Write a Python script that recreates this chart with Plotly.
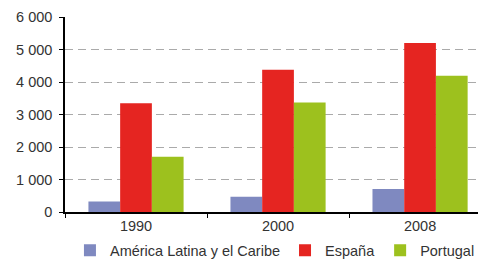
import plotly.graph_objects as go

years = ["1990", "2000", "2008"]
series_names = ["América Latina y el Caribe", "España", "Portugal"]
america_latina = [320, 470, 710]
espana = [3350, 4380, 5200]
portugal = [1700, 3370, 4190]
colors = ["#7f89c0", "#e52521", "#9dc11e"]
y_ticks = [0, 1000, 2000, 3000, 4000, 5000, 6000]

fig = go.Figure()
for name, vals, c in zip(series_names, [america_latina, espana, portugal], colors):
    fig.add_trace(go.Bar(x=years, y=vals, name=name, marker=dict(color=c, line=dict(width=0))))

fig.update_layout(
    width=478, height=259,
    margin=dict(l=65, r=0, t=17, b=47, autoexpand=False),
    paper_bgcolor="white", plot_bgcolor="white",
    barmode="group", bargap=0.33, bargroupgap=0,
    separators=", ",
    font=dict(family="Liberation Sans, Arial, sans-serif", size=14.5, color="#333333"),
    showlegend=True,
    legend=dict(orientation="h", x=0.012, xanchor="left", y=-0.115, yanchor="top",
                font=dict(size=14.5, color="#333333"),
                traceorder="normal", itemwidth=30, tracegroupgap=0),
)
fig.update_xaxes(
    type="category", range=[-0.5, 2.408],
    showline=True, linecolor="#000000", linewidth=1.5,
    ticks="outside", tickson="boundaries", ticklen=4, tickcolor="#000000",
    showgrid=False, tickfont=dict(size=14.5, color="#333333"),
)
fig.update_yaxes(
    range=[0, 6000], tickvals=y_ticks, tickformat=",d",
    showline=True, linecolor="#000000", linewidth=1.5,
    ticks="outside", ticklen=4, tickcolor="#000000", ticklabelstandoff=4,
    showgrid=True, gridcolor="#aaaaaa", griddash="8px,5px", gridwidth=1,
    zeroline=False, tickfont=dict(size=14.5, color="#333333"),
)
fig.write_html("out.html", config={"displayModeBar": False},
               post_script="document.body.style.margin='0';")
